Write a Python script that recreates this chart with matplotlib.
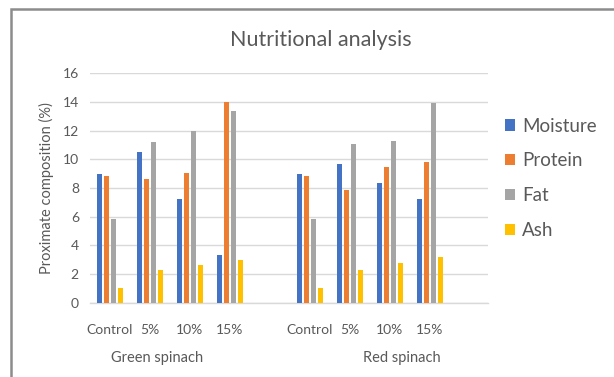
import matplotlib
matplotlib.use("Agg")
import matplotlib.pyplot as plt
from matplotlib.patches import Rectangle
import numpy as np

plt.rcParams['font.family'] = ['Lato', 'DejaVu Sans']

doses = ["Control", "5%", "10%", "15%"]
groups = ["Green spinach", "Red spinach"]
series = ["Moisture", "Protein", "Fat", "Ash"]
colors = ["#4472C4", "#ED7D31", "#A5A5A5", "#FFC000"]

green_moisture = [9.0, 10.5, 7.2, 3.35]
green_protein = [8.85, 8.6, 9.05, 14.0]
green_fat = [5.85, 11.2, 12.0, 13.35]
green_ash = [1.0, 2.3, 2.65, 3.0]

red_moisture = [9.0, 9.7, 8.35, 7.2]
red_protein = [8.85, 7.85, 9.45, 9.8]
red_fat = [5.85, 11.05, 11.25, 13.95]
red_ash = [1.0, 2.3, 2.75, 3.2]

values = {
    "Moisture": green_moisture + red_moisture,
    "Protein": green_protein + red_protein,
    "Fat": green_fat + red_fat,
    "Ash": green_ash + red_ash,
}

text_color = "#595959"
fig = plt.figure(figsize=(6.14, 3.77), dpi=100)
fig.patch.set_facecolor("white")

ax = fig.add_axes([0.1466, 0.197, 0.648, 0.6085])
x = np.array([0, 1, 2, 3, 5, 6, 7, 8], dtype=float)
w = 0.14
step = 0.175
for i, (s, c) in enumerate(zip(series, colors)):
    off = (i - 1.5) * step
    ax.bar(x + off, values[s], width=w, color=c, label=s, zorder=3)

ax.set_ylim(0, 16)
ax.set_xlim(-0.5, 9.45)
ax.set_yticks(range(0, 17, 2))
ax.yaxis.grid(True, color="#d9d9d9", linewidth=1.0, zorder=0)
for sp in ["top", "right", "left"]:
    ax.spines[sp].set_visible(False)
ax.spines["bottom"].set_color("#d9d9d9")
ax.spines["bottom"].set_linewidth(1.0)
ax.tick_params(axis="y", length=0, labelsize=10, labelcolor=text_color, pad=8)
ax.tick_params(axis="x", length=0, labelsize=10, labelcolor=text_color, pad=15)
ax.set_xticks(x)
ax.set_xticklabels(doses + doses)
ax.set_ylabel("Proximate composition (%)", fontsize=10.5, color=text_color, labelpad=6)

# group labels
ax.text(1.175, -0.24, groups[0], transform=ax.get_xaxis_transform(),
        ha="center", va="center", fontsize=10.5, color=text_color)
ax.text(7.3, -0.24, groups[1], transform=ax.get_xaxis_transform(),
        ha="center", va="center", fontsize=10.5, color=text_color)

fig.text(0.522, 0.895, "Nutritional analysis", ha="center", va="center",
         fontsize=15.5, color=text_color)

leg = fig.legend(loc="upper left", bbox_to_anchor=(0.795, 0.733), frameon=False,
                 fontsize=13.5, labelcolor=text_color, handlelength=0.55,
                 handleheight=0.55, handletextpad=0.35, labelspacing=0.95)

# chart border
fig.patches.append(Rectangle((11 / 614, -0.1), 1.2, 1.1 - 9 / 377,
                             transform=fig.transFigure, fill=False,
                             edgecolor="#8c8c8c", linewidth=1.8))

fig.savefig("out.png", dpi=100)
